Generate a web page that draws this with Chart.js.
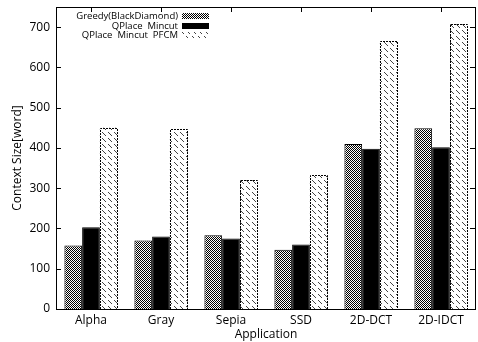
<!DOCTYPE html>
<html>
<head>
<meta charset="utf-8">
<script src="https://cdn.jsdelivr.net/npm/chart.js@4"></script>
<style>
  html, body { margin: 0; padding: 0; background: #fff; }
  #wrap { width: 478px; height: 342px; }
</style>
</head>
<body>
<div id="wrap"><canvas id="myChart" width="478" height="342"></canvas></div>
<script>
// Daten
const categories = ['Alpha', 'Gray', 'Sepia', 'SSD', '2D-DCT', '2D-IDCT'];
const greedy = [158, 170, 183, 147, 410, 449];
const mincut = [203, 180, 175, 160, 398, 402];
const pfcm = [450, 447, 320, 333, 665, 707];
const seriesNames = ['Greedy(BlackDiamond)', 'QPlace  Mincut', 'QPlace  Mincut  PFCM'];
const yTicks = [0, 100, 200, 300, 400, 500, 600, 700];

const FONT = "'Open Sans', 'DejaVu Sans', sans-serif";

// Muster erzeugen
function makeChecker() {
    const c = document.createElement('canvas');
    c.width = 2; c.height = 2;
    const g = c.getContext('2d');
    g.fillStyle = '#fff'; g.fillRect(0, 0, 2, 2);
    g.fillStyle = '#000';
    g.fillRect(0, 0, 1, 1);
    g.fillRect(1, 1, 1, 1);
    return g.createPattern(c, 'repeat');
}
function makeHatch() {
    const c = document.createElement('canvas');
    c.width = 6; c.height = 6;
    const g = c.getContext('2d');
    g.fillStyle = '#fff'; g.fillRect(0, 0, 6, 6);
    g.fillStyle = '#444';
    for (let i = 0; i < 4; i++) g.fillRect(i, i, 1, 1);
    return g.createPattern(c, 'repeat');
}
const checker = makeChecker();
const hatch = makeHatch();
const fills = [checker, '#000', hatch];

// gestrichelter Rand für die PFCM-Balken
const dashPlugin = {
    id: 'dashBorder',
    afterDatasetsDraw(chart) {
        const ctx = chart.ctx;
        const meta = chart.getDatasetMeta(2);
        ctx.save();
        ctx.strokeStyle = '#000';
        ctx.lineWidth = 1;
        ctx.setLineDash([2, 1]);
        meta.data.forEach(bar => {
            const l = Math.round(bar.x - bar.width / 2) + 0.5;
            const r = Math.round(bar.x + bar.width / 2) - 0.5;
            const t = Math.round(bar.y) + 0.5;
            const b = Math.round(bar.base);
            ctx.beginPath();
            ctx.moveTo(l, b); ctx.lineTo(l, t); ctx.lineTo(r, t); ctx.lineTo(r, b);
            ctx.stroke();
        });
        ctx.restore();
    }
};

// Rahmen, Ticks und Legende
const framePlugin = {
    id: 'frame',
    afterDraw(chart) {
        const ctx = chart.ctx;
        const a = chart.chartArea;
        const y = chart.scales.y;
        const x = chart.scales.x;
        ctx.save();
        ctx.strokeStyle = '#000';
        ctx.lineWidth = 1;
        ctx.strokeRect(Math.round(a.left) + 0.5, Math.round(a.top) + 0.5,
            Math.round(a.right - a.left) - 1, Math.round(a.bottom - a.top));
        ctx.beginPath();
        yTicks.forEach(v => {
            const py = Math.round(y.getPixelForValue(v)) + 0.5;
            ctx.moveTo(a.left, py); ctx.lineTo(a.left + 5, py);
            ctx.moveTo(a.right - 1, py); ctx.lineTo(a.right - 6, py);
        });
        categories.forEach((c, i) => {
            const px = Math.round(x.getPixelForValue(i)) + 0.5;
            ctx.moveTo(px, a.top); ctx.lineTo(px, a.top + 5);
        });
        ctx.stroke();

        // Legende
        ctx.font = '9.5px ' + FONT;
        ctx.textAlign = 'right';
        ctx.textBaseline = 'middle';
        ctx.fillStyle = '#000';
        const rows = [16, 26, 35];
        seriesNames.forEach((name, i) => {
            ctx.fillText(name, 178, rows[i]);
            ctx.fillStyle = fills[i];
            ctx.fillRect(182, rows[i] - 3, 27, 6);
            ctx.fillStyle = '#000';
        });
        ctx.restore();
    }
};

const ctx = document.getElementById('myChart').getContext('2d');
new Chart(ctx, {
    type: 'bar',
    data: {
        labels: categories,
        datasets: [
            { label: seriesNames[0], data: greedy, backgroundColor: checker, borderColor: '#000', borderWidth: 1 },
            { label: seriesNames[1], data: mincut, backgroundColor: '#000', borderColor: '#000', borderWidth: 1 },
            { label: seriesNames[2], data: pfcm, backgroundColor: hatch, borderWidth: 0 }
        ]
    },
    options: {
        responsive: false,
        animation: false,
        layout: { padding: { top: 7, right: 2, left: 0, bottom: 0 } },
        plugins: { legend: { display: false }, tooltip: { enabled: false } },
        datasets: { bar: { categoryPercentage: 0.76, barPercentage: 1.0 } },
        scales: {
            x: {
                grid: { display: false, drawTicks: false },
                border: { display: false },
                ticks: { color: '#000', font: { family: FONT, size: 12 }, padding: 4, maxRotation: 0 },
                title: { display: true, text: 'Application', color: '#000', font: { family: FONT, size: 12 }, padding: 0 },
                afterFit(s) { s.height = 33; }
            },
            y: {
                min: 0, max: 750,
                grid: { display: false, drawTicks: false },
                border: { display: false },
                afterBuildTicks(s) { s.ticks = yTicks.map(v => ({ value: v })); },
                ticks: { color: '#000', font: { family: FONT, size: 12 }, padding: 6 },
                title: { display: true, text: 'Context Size[word]', color: '#000', font: { family: FONT, size: 12 }, padding: { top: 10, bottom: 0 } },
                afterFit(s) { s.width = 56; s.paddingTop = 0; s.paddingBottom = 0; }
            }
        }
    },
    plugins: [dashPlugin, framePlugin]
});
</script>
</body>
</html>
